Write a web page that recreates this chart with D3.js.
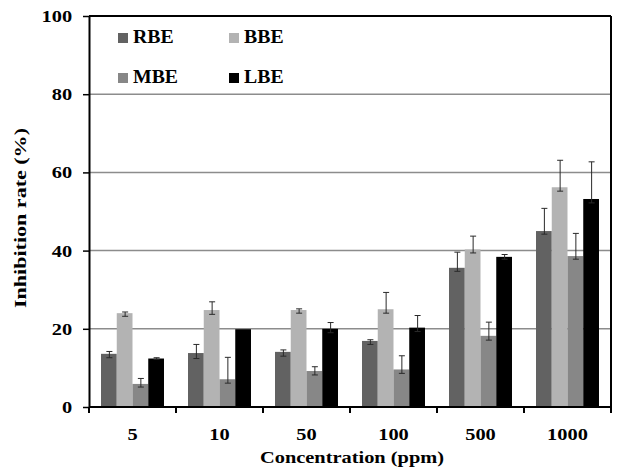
<!DOCTYPE html>
<html>
<head>
<meta charset="utf-8">
<script src="https://cdn.jsdelivr.net/npm/d3@7"></script>
<style>
  body { margin: 0; background: #fff; }
  text { font-family: "Liberation Serif", "Times New Roman", serif; font-weight: bold; fill: #000; }
</style>
</head>
<body>
<div id="chart"></div>
<script>
// concentrations and extracts
var categories = ["5", "10", "50", "100", "500", "1000"];
var seriesNames = ["RBE", "BBE", "MBE", "LBE"];
var seriesColors = ["#626262", "#b3b3b3", "#878787", "#000000"];
var yTicks = [0, 20, 40, 60, 80, 100];

// mean inhibition rate (%)
var RBE = [13.6, 13.8, 14.1, 16.9, 35.6, 45.0];
var BBE = [24.0, 24.8, 24.8, 25.0, 40.3, 56.2];
var MBE = [5.9, 7.1, 9.2, 9.6, 18.2, 38.6];
var LBE = [12.4, 19.9, 20.0, 20.3, 38.4, 53.2];

// error bars, upper and lower
var RBE_up = [0.6, 2.2, 0.5, 0.3, 4.0, 5.8];
var RBE_dn = [1.0, 1.4, 1.1, 0.9, 0.9, 0.8];
var BBE_up = [0.3, 2.1, 0.3, 4.3, 3.4, 6.9];
var BBE_dn = [0.8, 1.1, 0.8, 1.0, 0.9, 1.0];
var MBE_up = [1.4, 5.6, 1.1, 3.5, 3.5, 5.8];
var MBE_dn = [0.8, 1.0, 1.0, 1.0, 1.1, 0.8];
var LBE_up = [0.2, 0, 1.6, 3.1, 0.6, 9.5];
var LBE_dn = [0.2, 0, 1.0, 1.0, 0.6, 1.0];

var values = [RBE, BBE, MBE, LBE];
var ups = [RBE_up, BBE_up, MBE_up, LBE_up];
var dns = [RBE_dn, BBE_dn, MBE_dn, LBE_dn];

var svgW = 618, svgH = 470;
var pLeft = 89, pRight = 611, pTop = 16, pBottom = 407;
var stretch = 1.2;

var svg = d3.select("#chart").append("svg")
    .attr("width", svgW).attr("height", svgH);

var x0 = d3.scaleBand().domain(categories).range([pLeft, pRight])
    .paddingInner(0.276).paddingOuter(0.138);
var x1 = d3.scaleBand().domain(seriesNames).range([0, x0.bandwidth()]);
var y = d3.scaleLinear().domain([0, 100]).range([pBottom, pTop]);

// gridlines
svg.append("g").selectAll("line")
    .data(yTicks.filter(d => d > 0 && d < 100)).enter().append("line")
    .attr("x1", pLeft).attr("x2", pRight)
    .attr("y1", d => y(d)).attr("y2", d => y(d))
    .attr("stroke", "#8c8c8c").attr("stroke-width", 1.5);

// bars
var rows = [];
categories.forEach(function(c, i) {
    seriesNames.forEach(function(s, j) {
        rows.push({ cat: c, name: s, color: seriesColors[j], v: values[j][i], up: ups[j][i], dn: dns[j][i] });
    });
});

svg.append("g").selectAll("rect")
    .data(rows).enter().append("rect")
    .attr("x", d => x0(d.cat) + x1(d.name))
    .attr("y", d => y(d.v))
    .attr("width", x1.bandwidth())
    .attr("height", d => y(0) - y(d.v))
    .attr("fill", d => d.color);

// error bars
var eb = svg.append("g").attr("stroke", "#2a2a2a").attr("stroke-width", 1)
    .selectAll("g").data(rows.filter(d => d.up > 0 || d.dn > 0)).enter().append("g")
    .attr("transform", d => `translate(${x0(d.cat) + x1(d.name) + x1.bandwidth() / 2 + 0.5}, 0)`);
eb.append("line").attr("y1", d => y(d.v + d.up)).attr("y2", d => y(d.v - d.dn));
eb.append("line").attr("x1", -3).attr("x2", 3).attr("y1", d => y(d.v + d.up)).attr("y2", d => y(d.v + d.up));
eb.append("line").attr("x1", -3).attr("x2", 3).attr("y1", d => y(d.v - d.dn)).attr("y2", d => y(d.v - d.dn));

// frame
svg.append("line").attr("x1", pLeft).attr("x2", pRight).attr("y1", pTop).attr("y2", pTop)
    .attr("stroke", "#000").attr("stroke-width", 2);
svg.append("line").attr("x1", pRight).attr("x2", pRight).attr("y1", pTop).attr("y2", pBottom)
    .attr("stroke", "#000").attr("stroke-width", 2);

// y axis
var yAxis = svg.append("g").attr("transform", `translate(${pLeft}, 0)`)
    .call(d3.axisLeft(y).tickValues(yTicks).tickSize(6).tickPadding(8).tickSizeOuter(0));
yAxis.select(".domain").attr("stroke-width", 2);
yAxis.selectAll(".tick line").attr("stroke-width", 1.5);
yAxis.selectAll("text").attr("font-size", 17).attr("transform", `scale(${stretch},1)`);

// x axis: labels centred on groups, ticks at group edges
var xAxis = svg.append("g").attr("transform", `translate(0, ${pBottom})`)
    .call(d3.axisBottom(x0).tickSize(0).tickPadding(21).tickSizeOuter(0));
xAxis.select(".domain").attr("stroke-width", 2).attr("d", `M${pLeft},0H${pRight}`);
xAxis.selectAll("text").attr("font-size", 17).attr("transform", `scale(${stretch},1)`);

var edges = categories.map(c => x0(c) - x0.step() * x0.paddingInner() / 2);
edges.push(pRight);
svg.append("g").selectAll("line").data(edges).enter().append("line")
    .attr("x1", d => d).attr("x2", d => d)
    .attr("y1", pBottom).attr("y2", pBottom + 6)
    .attr("stroke", "#000").attr("stroke-width", 2);

// axis titles
svg.append("text")
    .attr("transform", `translate(${(pLeft + pRight) / 2 + 2}, 463) scale(${stretch},1)`)
    .attr("text-anchor", "middle").attr("font-size", 17)
    .text("Concentration (ppm)");

svg.append("text")
    .attr("transform", `translate(26, 218) rotate(-90) scale(1.26,1)`)
    .attr("text-anchor", "middle").attr("font-size", 17.5)
    .text("Inhibition rate (%)");

// legend
var legendPos = [[118, 43], [229, 43], [118, 83], [229, 83]];
var legend = svg.append("g").selectAll("g")
    .data(seriesNames).enter().append("g")
    .attr("transform", (d, i) => `translate(${legendPos[i][0]}, ${legendPos[i][1]})`);
legend.append("rect").attr("x", 0).attr("y", -10).attr("width", 10).attr("height", 10)
    .attr("fill", (d, i) => seriesColors[i]);
legend.append("text").attr("x", 15 / 1.1).attr("font-size", 18)
    .attr("transform", "scale(1.1,1)").text(d => d);
</script>
</body>
</html>
